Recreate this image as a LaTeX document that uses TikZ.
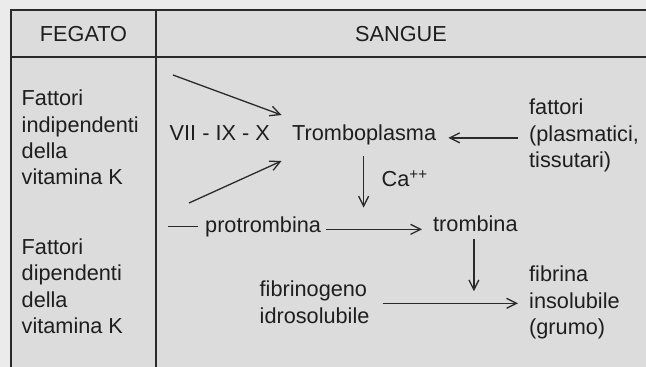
\documentclass[tikz,border=0pt]{standalone}
\usepackage{fontspec}
\setmainfont{Liberation Sans}
\usetikzlibrary{arrows.meta,calc}
\definecolor{outerbg}{HTML}{EBEBEB}
\definecolor{innerbg}{HTML}{DCDCDC}
\definecolor{ink}{HTML}{1E1E1E}
\definecolor{rule}{HTML}{2A2A2A}
\tikzset{
  txt/.style={font=\fontsize{21.7}{26.3}\selectfont, inner sep=0pt, text=ink},
  multi/.style={txt, align=left, anchor=north west},
  frameline/.style={draw=rule, line width=1.8pt},
  arr/.style={draw=rule, line width=1.3pt, -{Straight Barb[length=10pt,width=10pt,line width=1.3pt]}},
  plain/.style={draw=rule, line width=1.3pt}
}
\begin{document}
\begin{tikzpicture}[x=1pt,y=-1pt]
\useasboundingbox (0,0) rectangle (646,367);
\fill[outerbg] (0,0) rectangle (646,367);
\fill[innerbg] (11,10) rectangle (646,367);
% frame
\coordinate (tl) at (11,10);
\coordinate (tr) at (646,10);
\coordinate (hl) at (11,57);
\coordinate (hr) at (646,57);
\coordinate (bl) at (11,367);
\coordinate (dt) at (156,10);
\coordinate (db) at (156,367);
\draw[frameline] (tr) -- (tl) -- (bl);
\draw[frameline] (hl) -- (hr);
\draw[frameline] (dt) -- (db);
% headers
\node[txt, anchor=base] (fegato) at (83.5,41.7) {FEGATO};
\node[txt, anchor=base] (sangue) at (401,41.7) {SANGUE};
% left column
\node[multi] (indip) at (21.5,89.8) {Fattori\\indipendenti\\della\\vitamina K};
\node[multi] (dip) at (21.5,238.5) {Fattori\\dipendenti\\della\\vitamina K};
% middle
\node[txt, anchor=base west] (vii) at (169.5,140.5) {VII - IX - X};
\node[txt, anchor=base west] (tp) at (292,140.5) {Tromboplasma};
\node[multi] (fat) at (529,98.8) {fattori\\(plasmatici,\\tissutari)};
\node[txt, anchor=base west] (ca) at (381.5,186.7) {Ca\textsuperscript{++}};
\node[txt, anchor=base west] (pro) at (205,232) {protrombina};
\node[txt, anchor=base west] (trb) at (433,231.5) {trombina};
\node[multi] (fg) at (259.5,280.8) {fibrinogeno\\idrosolubile};
\node[multi] (fb) at (529,265.8) {fibrina\\insolubile\\(grumo)};
% free ends
\coordinate (s1) at (173,75);
\coordinate (e1) at (281.5,115);
\coordinate (s2) at (189,203);
\coordinate (e2) at (281.5,161);
\coordinate (d0) at (168,226.5);
% connectors
\draw[arr] (s1) -- (e1);
\draw[arr] (s2) -- (e2);
\draw[arr, shorten <=11pt, shorten >=12pt] (fat.west |- tp.mid) -- (tp.mid east);
\draw[arr, shorten <=11pt, shorten >=8pt] ($(tp.south)+(-0.5,0)$) -- ($(tp.south |- trb.north)+(-0.5,0)$);
\draw[plain, shorten >=7pt] (d0) -- (d0 -| pro.west);
\draw[arr, shorten <=5pt, shorten >=11pt] (pro.mid east) -- (pro.mid east -| trb.west);
\coordinate (fgl) at ($(fg.north east)+(0,22.5)$);
\draw[arr, shorten <=13pt, shorten >=11pt] (fgl) -- (fgl -| fb.west);
\draw[arr, shorten <=7.5pt, shorten >=12pt] ($(trb.south)+(-1.5,0)$) -- ($(trb.south |- fgl)+(-1.5,0)$);
\end{tikzpicture}
\end{document}
